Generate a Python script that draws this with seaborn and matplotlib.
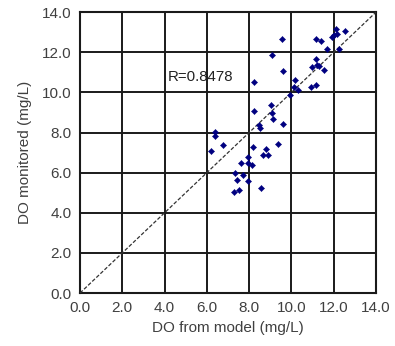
import numpy as np
import pandas as pd
import matplotlib
matplotlib.use("Agg")
import matplotlib.pyplot as plt
import seaborn as sns

# DO values (mg/L)
do_model = [9.54, 11.16, 11.42, 12.11, 12.52, 12.14, 12.03, 11.92, 11.70, 12.27,
            9.07, 11.18, 11.19, 10.99, 11.30, 11.56, 9.59, 8.25, 10.15, 10.14,
            10.33, 10.94, 11.18, 9.93, 8.23, 9.04, 9.10, 9.11, 9.62, 8.45,
            8.51, 6.40, 6.40, 6.78, 6.21, 8.17, 8.78, 9.35, 8.64, 8.89,
            7.96, 7.63, 7.93, 8.15, 7.35, 7.69, 7.41, 7.96, 8.55, 7.52, 7.28]
do_monitored = [12.64, 12.67, 12.56, 13.14, 13.07, 12.89, 12.86, 12.74, 12.17, 12.17,
                11.86, 11.64, 11.36, 11.25, 11.33, 11.13, 11.08, 10.50, 10.61, 10.25,
                10.10, 10.25, 10.36, 9.87, 9.07, 9.35, 8.95, 8.65, 8.44, 8.36,
                8.21, 8.02, 7.84, 7.37, 7.08, 7.29, 7.19, 7.41, 6.88, 6.88,
                6.79, 6.46, 6.46, 6.38, 5.96, 5.86, 5.63, 5.57, 5.25, 5.15, 5.03]
line_x = [0.0, 14.0]
ticks = [0, 2, 4, 6, 8, 10, 12, 14]
r_label = "R=0.8478"

sns.set_style("white")
plt.rcParams['font.family'] = ['Liberation Sans', 'DejaVu Sans']

df = pd.DataFrame({"model": do_model, "monitored": do_monitored})
diag = pd.DataFrame({"x": line_x, "y": line_x})

fig = plt.figure(figsize=(3.95, 3.46), dpi=100)
ax = fig.add_axes([0.2025, 0.153, 0.7495, 0.812])

sns.lineplot(data=diag, x="x", y="y", ax=ax, color="#333333", lw=0.9,
             linestyle=(0, (3, 1.5)), zorder=3)
sns.scatterplot(data=df, x="model", y="monitored", ax=ax, marker="D", s=10,
                color="#000080", edgecolor="#000080", linewidth=0.3, zorder=4)

txt = "#404040"
ax.set_xlim(0, 14)
ax.set_ylim(0, 14)
ax.set_xticks(ticks)
ax.set_yticks(ticks)
ax.set_xticklabels([f"{t:.1f}" for t in ticks], fontsize=11, color=txt)
ax.set_yticklabels([f"{t:.1f}" for t in ticks], fontsize=11, color=txt)
ax.tick_params(axis="x", length=0, pad=6)
ax.tick_params(axis="y", length=0, pad=6)
ax.grid(True, color="#1a1a1a", lw=1.4)
ax.set_axisbelow(True)
for s in ax.spines.values():
    s.set_color("#1a1a1a")
    s.set_linewidth(1.5)

ax.text(4.15, 10.76, r_label, fontsize=10.8, va="center", ha="left", color="#222222")
ax.set_xlabel("DO from model (mg/L)", fontsize=11, color=txt, labelpad=4)
ax.set_ylabel("DO monitored (mg/L)", fontsize=11, color=txt, labelpad=7)

fig.savefig("out.png", dpi=100)
